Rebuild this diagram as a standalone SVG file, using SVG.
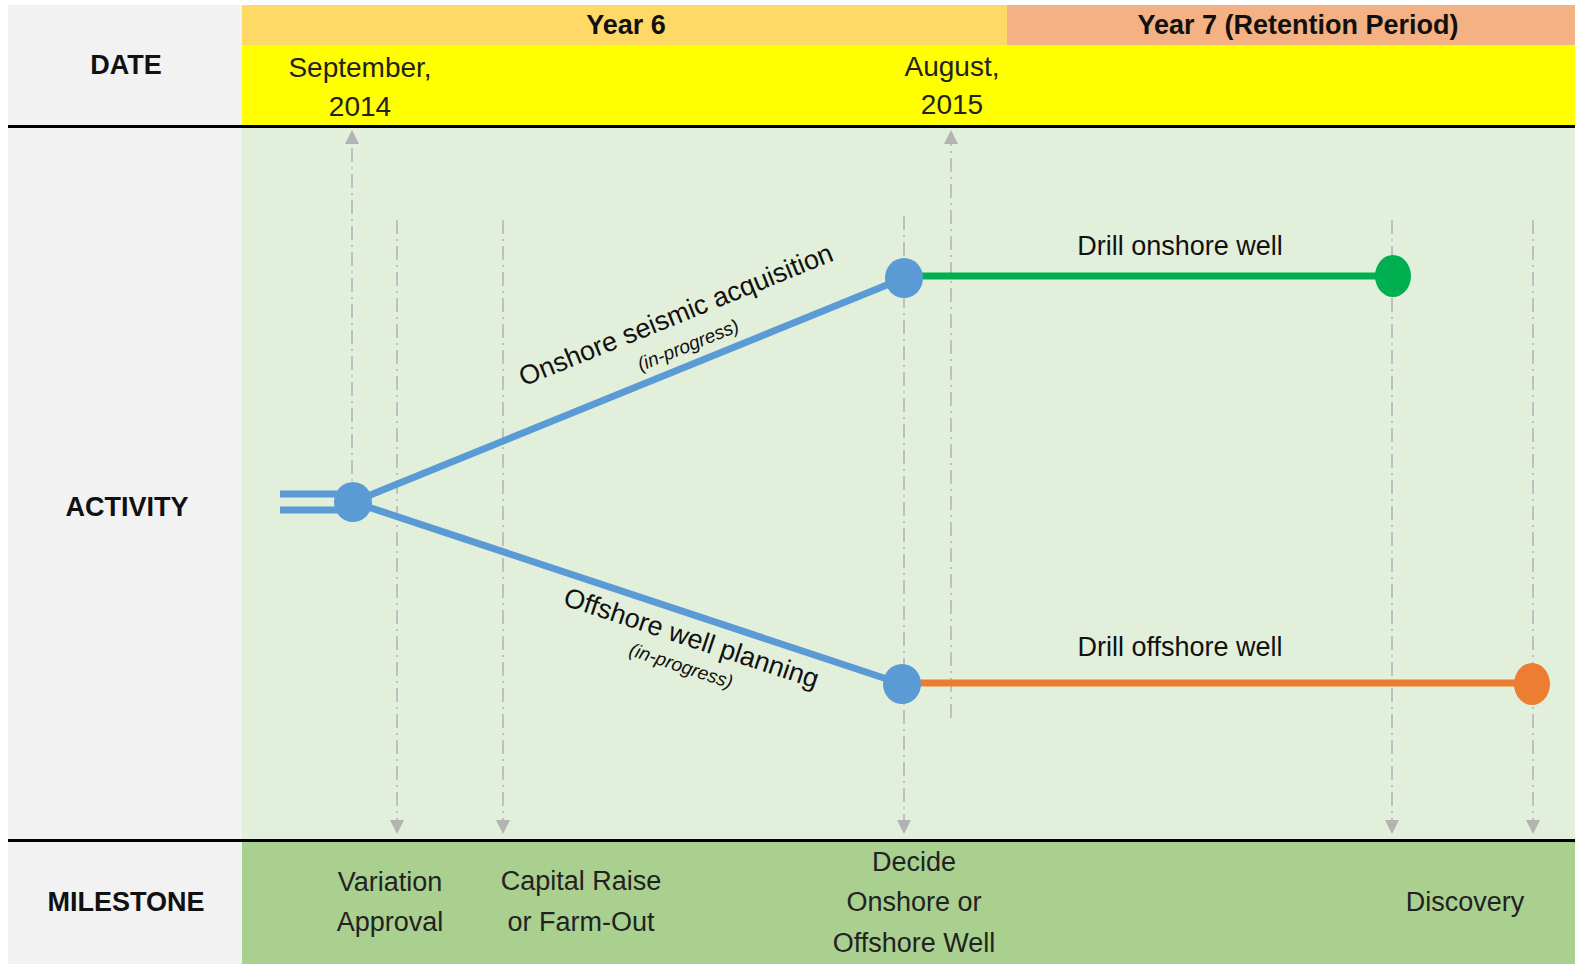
<svg xmlns="http://www.w3.org/2000/svg" width="1575" height="964" viewBox="0 0 1575 964">
<style>
.t{font-family:"Liberation Sans",Arial,sans-serif;fill:#111}
.h{font-weight:bold;font-size:27px;text-anchor:middle;dominant-baseline:central}
.d{font-size:28px;text-anchor:middle;dominant-baseline:central;fill:#222}
.m{font-size:27px;text-anchor:middle;dominant-baseline:central;fill:#222}
.g{stroke:#bfbfbf;stroke-width:2;fill:none;stroke-dasharray:14 5 2 5}
.a{font-size:27px;text-anchor:middle;fill:#111}
.s{font-size:19px;font-style:italic;text-anchor:middle;fill:#111}
.w{font-size:27px;text-anchor:middle;fill:#111}
.b{stroke:#5b9bd5;stroke-width:7;fill:none}
</style>
<defs>
<marker id="arw" viewBox="0 0 14 14" refX="12" refY="7" markerWidth="14" markerHeight="14" orient="auto" markerUnits="userSpaceOnUse">
<path d="M0,0 L14,7 L0,14 z" fill="#b3b3b3"/>
</marker>
</defs>
<rect width="1575" height="964" fill="#ffffff"/>
<g id="bands">
<rect x="8" y="5" width="234" height="959" fill="#f2f2f2"/>
<rect x="242" y="5" width="765" height="40" fill="#ffd966"/>
<rect x="1007" y="5" width="568" height="40" fill="#f4b183"/>
<rect x="242" y="45" width="1333" height="81" fill="#ffff00"/>
<rect x="242" y="128" width="1333" height="712" fill="#e2efda"/>
<rect x="242" y="842" width="1333" height="122" fill="#a9d08e"/>
<line x1="8" y1="126.5" x2="1575" y2="126.5" stroke="#000" stroke-width="3"/>
<line x1="8" y1="840.5" x2="1575" y2="840.5" stroke="#000" stroke-width="3"/>
</g>
<g id="row-labels">
<text class="t h" x="126" y="65" font-size="28">DATE</text>
<text class="t h" x="127" y="507">ACTIVITY</text>
<text class="t h" x="126" y="902" font-size="28">MILESTONE</text>
<text class="t h" x="626" y="25" font-size="26.5">Year 6</text>
<text class="t h" x="1298" y="25">Year 7 (Retention Period)</text>
</g>
<g id="dates">
<text class="t d" x="360" y="67">September,</text>
<text class="t d" x="360" y="106">2014</text>
<text class="t d" x="952" y="66">August,</text>
<text class="t d" x="952" y="104">2015</text>
</g>
<g id="connectors">
<line class="g" x1="352" y1="500" x2="352" y2="132" marker-end="url(#arw)"/>
<line class="g" x1="951" y1="718" x2="951" y2="132" marker-end="url(#arw)"/>
<line class="g" x1="397" y1="220" x2="397" y2="832" marker-end="url(#arw)"/>
<line class="g" x1="503" y1="220" x2="503" y2="832" marker-end="url(#arw)"/>
<line class="g" x1="904" y1="216" x2="904" y2="832" marker-end="url(#arw)"/>
<line class="g" x1="1392" y1="220" x2="1392" y2="832" marker-end="url(#arw)"/>
<line class="g" x1="1533" y1="220" x2="1533" y2="832" marker-end="url(#arw)"/>
<line class="b" x1="280" y1="494" x2="353" y2="494"/>
<line class="b" x1="280" y1="510" x2="353" y2="510"/>
<line class="b" x1="353" y1="502" x2="904" y2="278"/>
<line class="b" x1="353" y1="502" x2="902" y2="684"/>
<line x1="904" y1="276" x2="1393" y2="276" stroke="#00b050" stroke-width="7"/>
<line x1="902" y1="683" x2="1532" y2="683" stroke="#ed7d31" stroke-width="7"/>
</g>
<g id="node-start"><ellipse cx="353" cy="502" rx="19" ry="20" fill="#5b9bd5"/></g>
<g id="node-onshore-decide"><ellipse cx="904" cy="278" rx="19" ry="20" fill="#5b9bd5"/></g>
<g id="node-offshore-decide"><ellipse cx="902" cy="684" rx="19" ry="20" fill="#5b9bd5"/></g>
<g id="node-onshore-end"><ellipse cx="1393" cy="276" rx="18" ry="21" fill="#00b050"/></g>
<g id="node-offshore-end"><ellipse cx="1532" cy="684" rx="18" ry="21" fill="#ed7d31"/></g>
<g id="activity-labels">
<g transform="translate(676,371) rotate(-22.1)">
<text class="t a" x="21" y="-43">Onshore seismic acquisition</text>
<text class="t s" x="21" y="-13">(in-progress)</text>
</g>
<g transform="translate(692,614) rotate(18.3)">
<text class="t a" x="7" y="32">Offshore well planning</text>
<text class="t s" x="6" y="59">(in-progress)</text>
</g>
<text class="t w" x="1180" y="255">Drill onshore well</text>
<text class="t w" x="1180" y="656">Drill offshore well</text>
</g>
<g id="milestones">
<text class="t m" x="390" y="882">Variation</text>
<text class="t m" x="390" y="922">Approval</text>
<text class="t m" x="581" y="881">Capital Raise</text>
<text class="t m" x="581" y="922">or Farm-Out</text>
<text class="t m" x="914" y="862">Decide</text>
<text class="t m" x="914" y="902">Onshore or</text>
<text class="t m" x="914" y="943">Offshore Well</text>
<text class="t m" x="1465" y="902">Discovery</text>
</g>
</svg>
